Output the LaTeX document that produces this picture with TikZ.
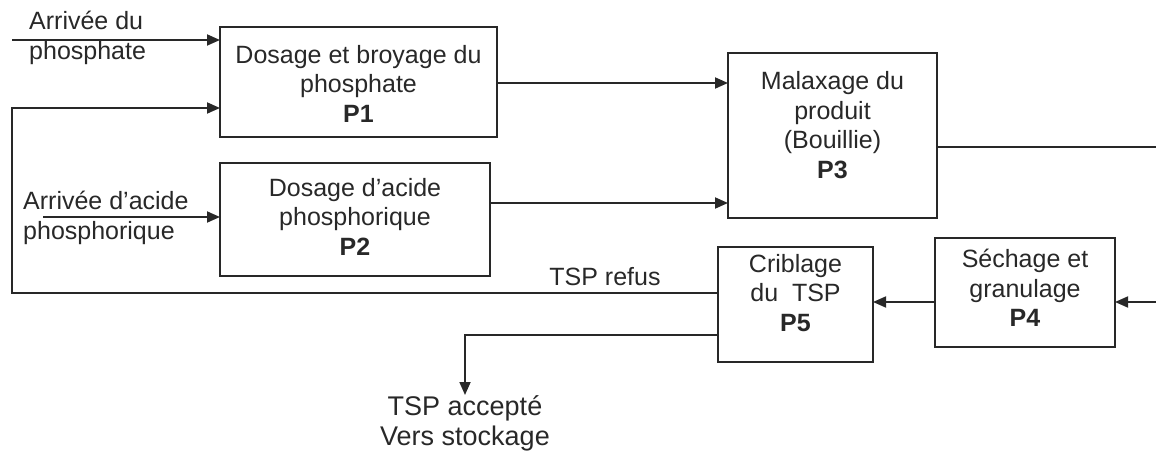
\documentclass[tikz,border=0pt]{standalone}
\usepackage{fontspec}
\setmainfont{Liberation Sans}
\usetikzlibrary{arrows.meta}
\definecolor{ink}{RGB}{40,40,40}
\tikzset{
  box/.style={draw=ink, line width=1.8pt, inner sep=0pt, outer sep=0pt, rectangle},
  txt/.style={text=ink, align=center, inner sep=0pt, font=\fontsize{25}{29.5}\selectfont},
  ltxt/.style={text=ink, align=left, inner sep=0pt, anchor=west, font=\fontsize{25}{29.5}\selectfont},
  btxt/.style={text=ink, align=center, inner sep=0pt, font=\fontsize{27}{30}\selectfont},
  ln/.style={draw=ink, line width=1.8pt},
  arr/.style={ln, -{Triangle[length=13pt,width=11pt]}}
}
\begin{document}
\begin{tikzpicture}[x=1pt,y=-1pt]
\useasboundingbox (0,0) rectangle (1156,454);
% boxes
\node[box, minimum width=277pt, minimum height=110pt] (p1) at (358.5,82) {};
\node[box, minimum width=270pt, minimum height=113pt] (p2) at (355,219.5) {};
\node[box, minimum width=209pt, minimum height=165pt] (p3) at (832.5,135.5) {};
\node[box, minimum width=155pt, minimum height=115pt] (p5) at (795.5,304.5) {};
\node[box, minimum width=180pt, minimum height=109pt] (p4) at (1025,292.5) {};
% box texts
\node[txt] (t1) at (358.5,83.5) {Dosage et broyage du\\phosphate\\\textbf{P1}};
\node[txt] (t2) at (355,216.5) {Dosage d’acide\\phosphorique\\\textbf{P2}};
\node[txt] (t3) at (832.5,125) {Malaxage du\\produit\\(Bouillie)\\\textbf{P3}};
\node[txt] (t5) at (795.5,293) {Criblage\\du\ \ TSP\\\textbf{P5}};
\node[txt] (t4) at (1025,288) {Séchage et\\granulage\\\textbf{P4}};
% free labels
\node[ltxt] (lin1) at (29,38) {Arrivée du\\phosphate};
\node[ltxt] (lin2) at (23,218) {Arrivée d’acide\\phosphorique};
\node[txt] (lref) at (605,277) {TSP refus};
\node[btxt, anchor=north] (acc) at (465,395) {TSP accepté\\Vers stockage};
% coordinates
\coordinate (in1) at (12,40);
\coordinate (fbT) at (12,108);
\coordinate (fbL) at (12,293);
\coordinate (in2) at (43,217);
\coordinate (a13) at (497,83);
\coordinate (a23) at (490,203);
\coordinate (out3) at (1156,147);
\coordinate (in4) at (1156,302);
\coordinate (accC) at (465,335);
% connectors
\draw[arr] (in1) -- (in1 -| p1.west);
\draw[arr] (p5.west |- fbL) -- (fbL) -- (fbT) -- (fbT -| p1.west);
\draw[arr] (in2) -- (in2 -| p2.west);
\draw[arr] (a13) -- (a13 -| p3.west);
\draw[arr] (a23) -- (a23 -| p3.west);
\draw[ln] (p3.east |- out3) -- (out3);
\draw[arr] (in4) -- (in4 -| p4.east);
\draw[arr] (p4.west |- in4) -- (p5.east |- in4);
\draw[arr] (p5.west |- accC) -- (accC) -- (acc.north);
\end{tikzpicture}
\end{document}
